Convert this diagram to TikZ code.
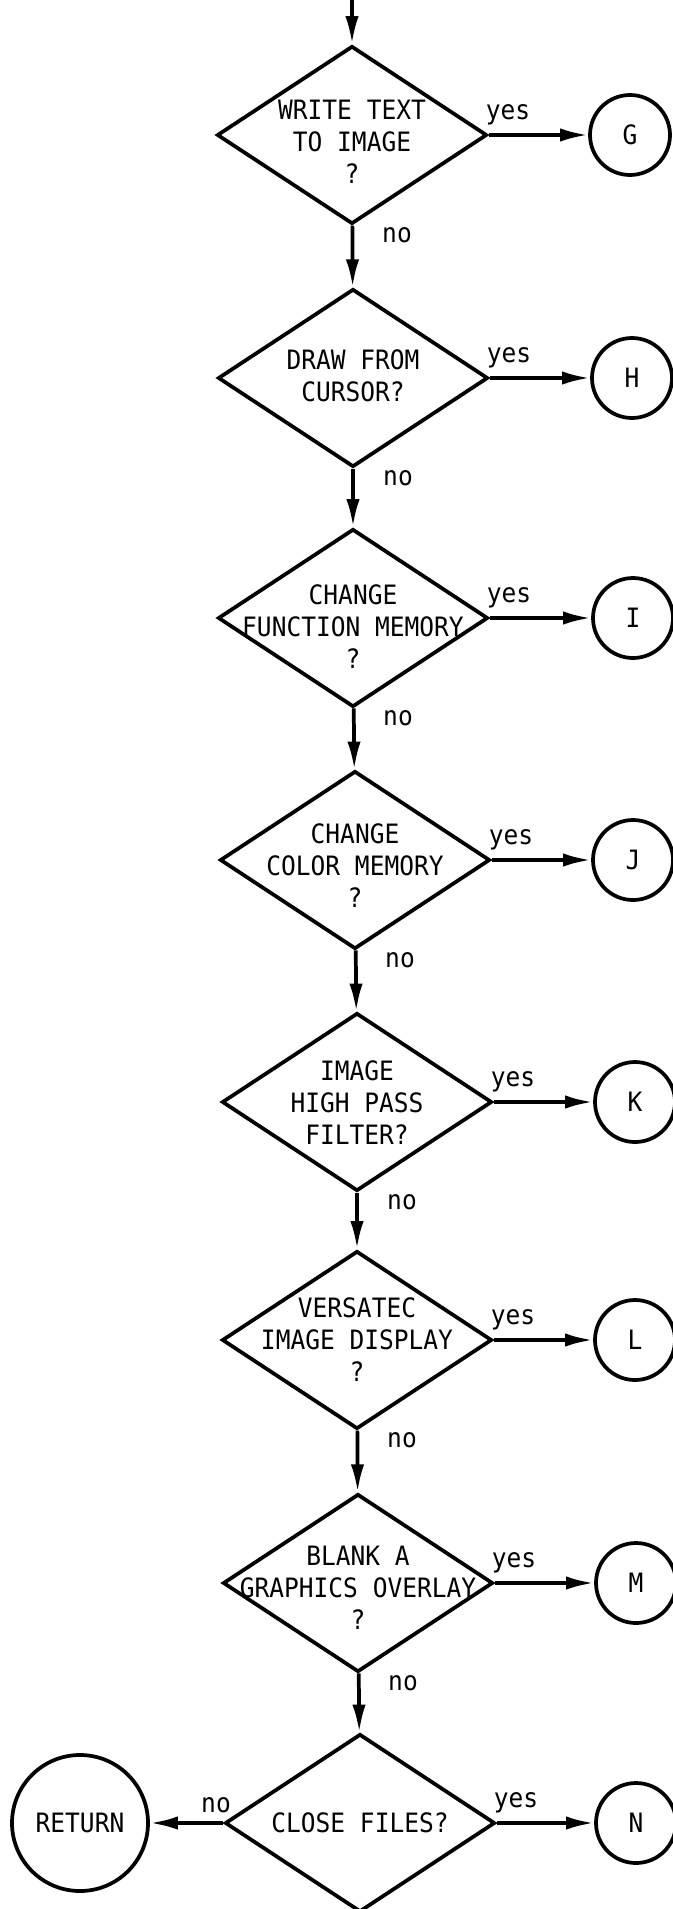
\documentclass[tikz,border=0pt]{standalone}
\usepackage{fontspec}
\newfontfamily\chartfont[FakeStretch=0.92]{DejaVu Sans Mono}
\usetikzlibrary{shapes.geometric,arrows.meta}

\tikzset{every picture/.style={line width=2.8pt}}
\tikzset{
  decision/.style={draw, diamond, inner sep=0pt, minimum width=202.5pt, minimum height=133.5pt},
  qtext/.style={align=center, inner sep=0pt, font=\chartfont\fontsize{20}{24}\selectfont},
  conn/.style={draw, circle, inner sep=0pt, minimum size=60pt, font=\chartfont\fontsize{20}{24}\selectfont},
  lab/.style={inner sep=0pt, font=\chartfont\fontsize{20}{24}\selectfont},
  flow/.style={-{Latex[length=21pt,width=10pt]}}
}

\begin{document}
\begin{tikzpicture}[x=0.75pt,y=0.75pt,yscale=-1,xscale=1]
	\useasboundingbox (0,0) rectangle (673,1909);

	% Decisions
	\node[decision] (d1) at (352,135) {};
	\node[qtext] (q1) at (352,142) {WRITE TEXT\\TO IMAGE\\?};
	\node[decision] (d2) at (353,378) {};
	\node[qtext] (q2) at (353,376) {DRAW FROM\\CURSOR?};
	\node[decision] (d3) at (353,618) {};
	\node[qtext] (q3) at (353,627) {CHANGE\\FUNCTION MEMORY\\?};
	\node[decision] (d4) at (355,860) {};
	\node[qtext] (q4) at (355,866) {CHANGE\\COLOR MEMORY\\?};
	\node[decision] (d5) at (357,1102) {};
	\node[qtext] (q5) at (357,1103) {IMAGE\\HIGH PASS\\FILTER?};
	\node[decision] (d6) at (357,1340) {};
	\node[qtext] (q6) at (357,1340) {VERSATEC\\IMAGE DISPLAY\\?};
	\node[decision] (d7) at (358,1583) {};
	\node[qtext] (q7) at (358,1588) {BLANK A\\GRAPHICS OVERLAY\\?};
	\node[decision] (d8) at (360,1823) {};
	\node[qtext] (q8) at (360,1823) {CLOSE FILES?};

	% Connectors
	\node[conn] (g) at (630,135) {G};
	\node[conn] (h) at (632,378) {H};
	\node[conn] (i) at (633,618) {I};
	\node[conn] (j) at (633,860) {J};
	\node[conn] (k) at (635,1102) {K};
	\node[conn] (l) at (635,1340) {L};
	\node[conn] (m) at (636,1583) {M};
	\node[conn] (n) at (636,1823) {N};
	\node[conn, minimum size=102pt] (ret) at (80,1823) {RETURN};

	% Flow lines
	\coordinate (entry) at (352,-5);
	\draw[flow] (entry) -- (d1);
	\draw[flow] (d1) -- (d2);
	\draw[flow] (d2) -- (d3);
	\draw[flow] (d3) -- (d4);
	\draw[flow] (d4) -- (d5);
	\draw[flow] (d5) -- (d6);
	\draw[flow] (d6) -- (d7);
	\draw[flow] (d7) -- (d8);
	\draw[flow] (d1) -- (g);
	\draw[flow] (d2) -- (h);
	\draw[flow] (d3) -- (i);
	\draw[flow] (d4) -- (j);
	\draw[flow] (d5) -- (k);
	\draw[flow] (d6) -- (l);
	\draw[flow] (d7) -- (m);
	\draw[flow] (d8) -- (n);
	\draw[flow] (d8) -- (ret);

	% yes / no
	\node[lab] (y1) at (508,115) {yes};
	\node[lab] (n1) at (397,235) {no};
	\node[lab] (y2) at (509,358) {yes};
	\node[lab] (n2) at (398,478) {no};
	\node[lab] (y3) at (509,598) {yes};
	\node[lab] (n3) at (398,718) {no};
	\node[lab] (y4) at (511,840) {yes};
	\node[lab] (n4) at (400,960) {no};
	\node[lab] (y5) at (513,1082) {yes};
	\node[lab] (n5) at (402,1202) {no};
	\node[lab] (y6) at (513,1320) {yes};
	\node[lab] (n6) at (402,1440) {no};
	\node[lab] (y7) at (514,1563) {yes};
	\node[lab] (n7) at (403,1683) {no};
	\node[lab] (y8) at (516,1803) {yes};
	\node[lab] (n8) at (216,1805) {no};

\end{tikzpicture}
\end{document}
